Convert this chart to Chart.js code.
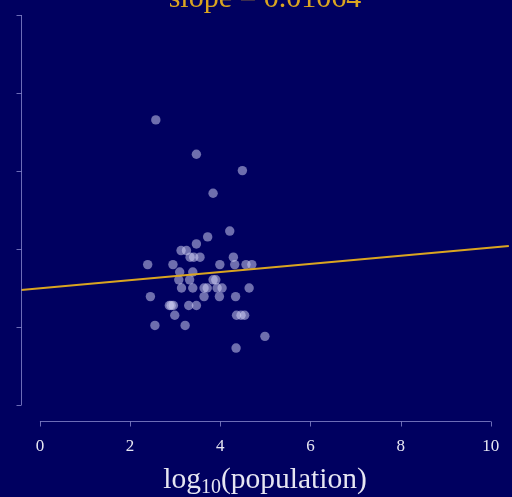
<!DOCTYPE html>
<html>
<head>
<meta charset="utf-8">
<script src="https://cdn.jsdelivr.net/npm/chart.js@4/dist/chart.umd.min.js"></script>
<style>
html,body{margin:0;padding:0;background:#000060;}
canvas{display:block;}
</style>
</head>
<body>
<canvas id="c" width="512" height="497"></canvas>
<script>
const titleText = "slope = 0.01064";
const xTicks = [0, 2, 4, 6, 8, 10];
const yTicks = [0, 0.2, 0.4, 0.6, 0.8, 1.0];
const xVals = [2.57,3.47,4.49,3.84,4.21,3.72,3.47,3.13,3.25,3.33,3.41,3.55,4.29,2.39,2.95,3.99,4.32,4.57,4.70,3.10,3.39,3.08,3.32,3.84,3.90,3.14,3.39,3.64,3.71,3.93,4.04,4.64,2.45,3.64,3.98,4.34,2.87,2.96,2.91,3.30,3.47,2.99,4.36,4.46,4.54,2.55,3.22,4.99,4.35];
const yVals = [0.731,0.643,0.601,0.543,0.446,0.431,0.413,0.396,0.396,0.379,0.379,0.379,0.379,0.360,0.360,0.360,0.360,0.360,0.360,0.341,0.341,0.321,0.321,0.321,0.321,0.300,0.300,0.300,0.300,0.300,0.300,0.300,0.278,0.278,0.278,0.278,0.255,0.255,0.255,0.255,0.255,0.230,0.230,0.230,0.230,0.204,0.204,0.176,0.146];
const fitX = [-0.42, 10.4];
const fitY = [0.295, 0.408];

const points = xVals.map((v, i) => ({x: v, y: yVals[i]}));
const fitLine = fitX.map((v, i) => ({x: v, y: fitY[i]}));

const AXIS_COLOR = 'rgba(135,135,205,0.8)';
const TEXT_COLOR = '#e6e6f2';
const GOLD = '#DAA520';
const SERIF = '"Liberation Serif", "Times New Roman", serif';

const decor = {
  id: 'decor',
  afterDraw(chart) {
    const {ctx, scales: {x, y}} = chart;
    ctx.save();
    ctx.strokeStyle = AXIS_COLOR;
    ctx.lineWidth = 1;
    // x axis (offset below plot)
    const yAx = 421.5;
    const x0 = x.getPixelForValue(xTicks[0]);
    const x1 = x.getPixelForValue(xTicks[xTicks.length - 1]);
    ctx.beginPath();
    ctx.moveTo(x0, yAx); ctx.lineTo(x1, yAx);
    xTicks.forEach(t => {
      const px = Math.round(x.getPixelForValue(t)) + 0.5;
      ctx.moveTo(px, yAx); ctx.lineTo(px, yAx + 5);
    });
    ctx.stroke();
    ctx.fillStyle = TEXT_COLOR;
    ctx.font = '17px ' + SERIF;
    ctx.textAlign = 'center';
    ctx.textBaseline = 'alphabetic';
    xTicks.forEach(t => {
      ctx.fillText(String(t), x.getPixelForValue(t), 451);
    });
    // y axis
    const xAx = 21.5;
    ctx.beginPath();
    ctx.moveTo(xAx, y.getPixelForValue(yTicks[0]));
    ctx.lineTo(xAx, y.getPixelForValue(yTicks[yTicks.length - 1]));
    yTicks.forEach(t => {
      const py = Math.round(y.getPixelForValue(t)) + 0.5;
      ctx.moveTo(xAx - 5, py); ctx.lineTo(xAx, py);
    });
    ctx.stroke();
    // title
    ctx.fillStyle = GOLD;
    ctx.font = '30px ' + SERIF;
    ctx.textAlign = 'center';
    ctx.fillText(titleText, 265, 6.5);
    // x label with subscript
    ctx.fillStyle = TEXT_COLOR;
    const big = '29.5px ' + SERIF, small = '20px ' + SERIF;
    ctx.font = big; const w1 = ctx.measureText('log').width;
    const w3 = ctx.measureText('(population)').width;
    ctx.font = small; const w2 = ctx.measureText('10').width;
    const total = w1 + w2 + w3;
    let sx = 265 - total / 2;
    ctx.textAlign = 'left';
    ctx.font = big; ctx.fillText('log', sx, 488); sx += w1;
    ctx.font = small; ctx.fillText('10', sx, 493); sx += w2;
    ctx.font = big; ctx.fillText('(population)', sx, 488);
    ctx.restore();
  }
};

new Chart(document.getElementById('c'), {
  type: 'scatter',
  data: {
    datasets: [
      {
        type: 'scatter',
        data: points,
        pointRadius: 4.7,
        pointHoverRadius: 4.7,
        pointBackgroundColor: 'rgba(210,210,245,0.52)',
        pointBorderWidth: 0,
        pointBorderColor: 'rgba(0,0,0,0)',
        order: 2
      },
      {
        type: 'line',
        data: fitLine,
        borderColor: GOLD,
        borderWidth: 2,
        pointRadius: 0,
        fill: false,
        order: 1
      }
    ]
  },
  options: {
    responsive: false,
    animation: false,
    events: [],
    layout: {autoPadding: false, padding: {left: 21, right: 0, top: 15, bottom: 92}},
    plugins: {legend: {display: false}, tooltip: {enabled: false}, title: {display: false}},
    scales: {
      x: {type: 'linear', display: false, min: -0.42, max: 10.47},
      y: {type: 'linear', display: false, min: 0, max: 1}
    }
  },
  plugins: [decor]
});
</script>
</body>
</html>
